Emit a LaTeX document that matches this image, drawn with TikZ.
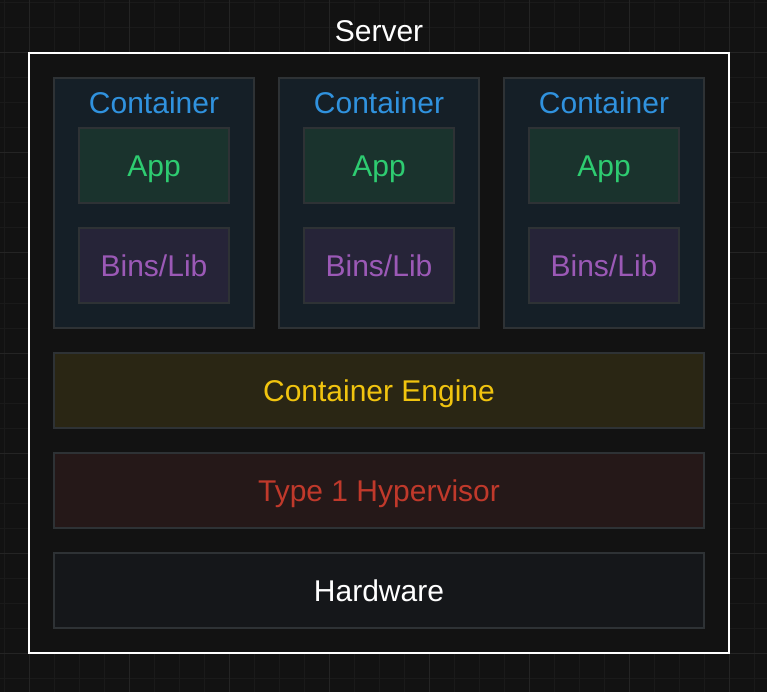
\documentclass[tikz,border=0pt]{standalone}
\usepackage{fontspec}
\setmainfont{Liberation Sans}
\usepackage{xcolor}
\usetikzlibrary{positioning}
\definecolor{bg}{HTML}{121212}
\definecolor{gridminor}{HTML}{1A1A1A}
\definecolor{gridmajor}{HTML}{242424}
\definecolor{edge}{HTML}{2E3235}
\definecolor{ctrfill}{HTML}{151F27}
\definecolor{ctrtext}{HTML}{3092DE}
\definecolor{appfill}{HTML}{1A332D}
\definecolor{apptext}{HTML}{2ECC71}
\definecolor{libfill}{HTML}{262438}
\definecolor{libtext}{HTML}{9B59B6}
\definecolor{engfill}{HTML}{2A2614}
\definecolor{engtext}{HTML}{F1C40F}
\definecolor{hypfill}{HTML}{251818}
\definecolor{hyptext}{HTML}{C0392B}
\definecolor{hwfill}{HTML}{15171A}
\tikzset{
    txt/.style={font=\fontsize{30}{34}\selectfont, inner sep=0pt, text height=28pt, text depth=6pt},
    box/.style={txt, draw=edge, line width=2pt, rectangle},
    ctrbox/.style={box, fill=ctrfill, minimum width=200pt, minimum height=250pt},
    appbox/.style={box, fill=appfill, text=apptext, minimum width=150pt, minimum height=75pt},
    libbox/.style={box, fill=libfill, text=libtext, minimum width=150pt, minimum height=75pt},
    layer/.style={box, minimum width=650pt, minimum height=75pt},
}

\begin{document}
\begin{tikzpicture}[x=1pt, y=-1pt]
    \useasboundingbox[fill=bg] (0,0) rectangle (767,692);
    \foreach \i in {0,...,30}
        \draw[gridminor, line width=1pt] (4+25*\i,0) -- (4+25*\i,692);
    \foreach \i in {0,...,27}
        \draw[gridminor, line width=1pt] (0,3+25*\i) -- (767,3+25*\i);
    \foreach \i in {0,...,7}
        \draw[gridmajor, line width=1pt] (29+100*\i,0) -- (29+100*\i,692);
    \foreach \i in {0,...,6}
        \draw[gridmajor, line width=1pt] (0,53+100*\i) -- (767,53+100*\i);

    \node[draw=white, line width=2pt, fill=bg, minimum width=700pt, minimum height=600pt, inner sep=0pt] (server) at (379,353) {};
    \node[txt, text=white] (server-title) at (379,31) {Server};

    \foreach \x/\n in {154/a,379/b,604/c} {
        \node[ctrbox] (ctr-\n) at (\x,203) {};
        \node[txt, text=ctrtext] (ctr-\n-title) at (\x,102.5) {Container};
        \node[appbox] (app-\n) at (\x,165.5) {App};
        \node[libbox] (lib-\n) at (\x,265.5) {Bins/Lib};
    }

    \node[layer, fill=engfill, text=engtext] (engine) at (379,390.5) {Container Engine};
    \node[layer, fill=hypfill, text=hyptext] (hypervisor) at (379,490.5) {Type 1 Hypervisor};
    \node[layer, fill=hwfill, text=white] (hardware) at (379,590.5) {Hardware};
\end{tikzpicture}
\end{document}
